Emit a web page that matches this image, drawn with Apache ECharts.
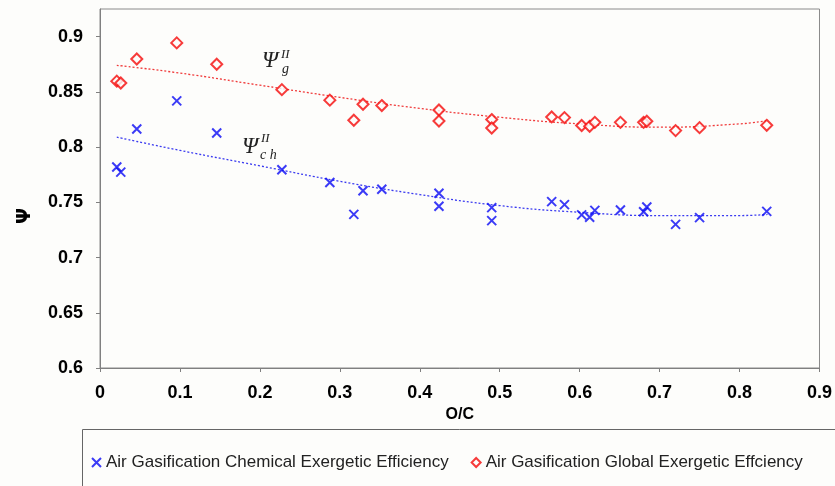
<!DOCTYPE html>
<html>
<head>
<meta charset="utf-8">
<script src="https://cdn.jsdelivr.net/npm/echarts@6/dist/echarts.min.js"></script>
<style>
  html, body { margin: 0; padding: 0; background: #fdfdfb; }
  #chart { width: 835px; height: 486px; }
</style>
</head>
<body>
<div id="chart"></div>
<script>
// O/C ratio of each run (shared by both series)
const ocRatio = [0.021, 0.026, 0.046, 0.096, 0.146, 0.2275, 0.2875, 0.3175, 0.329, 0.3525,
  0.424, 0.424, 0.49, 0.49, 0.565, 0.581, 0.6025, 0.6125, 0.619, 0.651, 0.68, 0.684, 0.72, 0.75, 0.834]

const chemicalEff = [0.7819, 0.7773, 0.8164, 0.8418, 0.8127, 0.7794, 0.7679, 0.7391, 0.7604, 0.7618,
  0.7582, 0.7464, 0.7452, 0.7334, 0.7506, 0.7479, 0.7386, 0.7364, 0.7427, 0.7431, 0.7415, 0.7458, 0.730, 0.7361, 0.7418]

const globalEff = [0.8597, 0.858, 0.8797, 0.8943, 0.875, 0.852, 0.8425, 0.8243, 0.8388, 0.8376,
  0.8336, 0.8236, 0.8249, 0.8173, 0.8273, 0.8267, 0.8195, 0.8188, 0.8224, 0.8224, 0.8224, 0.8234, 0.8149, 0.8176, 0.8197]

// trend lines
const trendX = [0.021, 0.1, 0.2, 0.3, 0.4, 0.5, 0.6, 0.7, 0.8, 0.835]
const chemicalTrend = [0.809, 0.797, 0.783, 0.769, 0.757, 0.747, 0.741, 0.738, 0.738, 0.739]
const globalTrend = [0.874, 0.867, 0.856, 0.845, 0.835, 0.827, 0.821, 0.818, 0.821, 0.824]

const seriesNames = ['Air Gasification Chemical Exergetic Efficiency', 'Air Gasification Global Exergetic Effciency']

const pairs = (xs, ys) => xs.map((x, i) => [x, ys[i]])

const chart = echarts.init(document.getElementById('chart'))

const crossPath = 'path://M0,0L10,10M10,0L0,10'
const labelFont = { fontFamily: 'Liberation Sans', fontWeight: 'bold', fontSize: 18, color: '#000' }
const mathFont = (size) => 'italic ' + size + 'px "Liberation Serif"'

const option = {
  backgroundColor: '#fdfdfb',
  animation: false,
  grid: {
    left: 100,
    right: 15,
    top: 9,
    bottom: 118,
    show: true,
    borderColor: '#8a8a8a',
    borderWidth: 1,
  },
  xAxis: {
    type: 'value',
    min: 0,
    max: 0.9,
    interval: 0.1,
    name: 'O/C',
    nameLocation: 'middle',
    nameGap: 33,
    nameTextStyle: { fontFamily: 'Liberation Sans', fontWeight: 'bold', fontSize: 16, color: '#000' },
    axisLine: { lineStyle: { color: '#808080' } },
    axisTick: { length: 4, lineStyle: { color: '#808080' } },
    axisLabel: { ...labelFont, margin: 16 },
    splitLine: { show: false },
  },
  yAxis: {
    type: 'value',
    min: 0.6,
    max: 0.925,
    interval: 0.05,
    axisLine: { show: true, lineStyle: { color: '#808080' } },
    axisTick: { show: true, length: 4, lineStyle: { color: '#808080' } },
    axisLabel: { ...labelFont, margin: 17, showMaxLabel: false },
    splitLine: { show: false },
  },
  legend: {
    data: seriesNames,
    left: 86,
    top: 449,
    itemGap: 22,
    itemWidth: 9,
    itemHeight: 9,
    textStyle: { fontFamily: 'Liberation Sans', fontSize: 17, color: '#222' },
  },
  graphic: [
    {
      type: 'rect',
      left: 80,
      top: 427,
      shape: { width: 800, height: 80 },
      style: { fill: 'none', stroke: '#666', lineWidth: 1 },
      silent: true,
    },
    {
      type: 'text',
      x: 25,
      y: 216,
      rotation: Math.PI / 2,
      style: { text: 'Ψ', font: 'bold 19px "DejaVu Sans"', fill: '#000', align: 'center', verticalAlign: 'middle' },
    },
    { type: 'text', left: 262, top: 49, style: { text: 'Ψ', font: mathFont(23), fill: '#222' } },
    { type: 'text', left: 281, top: 48, style: { text: 'II', font: mathFont(13), fill: '#222' } },
    { type: 'text', left: 282, top: 62, style: { text: 'g', font: mathFont(14), fill: '#222' } },
    { type: 'text', left: 242, top: 135, style: { text: 'Ψ', font: mathFont(23), fill: '#222' } },
    { type: 'text', left: 261, top: 132, style: { text: 'II', font: mathFont(13), fill: '#222' } },
    { type: 'text', left: 260, top: 148, style: { text: 'c h', font: mathFont(14), fill: '#222' } },
  ],
  series: [
    {
      name: seriesNames[0],
      type: 'scatter',
      data: pairs(ocRatio, chemicalEff),
      symbol: crossPath,
      symbolSize: 9,
      itemStyle: { color: 'transparent', borderColor: '#0a0af5', borderWidth: 2 },
      z: 3,
    },
    {
      name: seriesNames[1],
      type: 'scatter',
      data: pairs(ocRatio, globalEff),
      symbol: 'diamond',
      symbolSize: 11,
      itemStyle: { color: '#fdfdfb', borderColor: '#f50a0a', borderWidth: 2 },
      z: 3,
    },
    {
      name: 'chemical trend',
      type: 'line',
      data: pairs(trendX, chemicalTrend),
      smooth: true,
      showSymbol: false,
      lineStyle: { color: '#3a3af0', width: 1.3, type: [2, 2] },
      z: 2,
    },
    {
      name: 'global trend',
      type: 'line',
      data: pairs(trendX, globalTrend),
      smooth: true,
      showSymbol: false,
      lineStyle: { color: '#f03a3a', width: 1.3, type: [2, 2] },
      z: 2,
    },
  ],
}

chart.setOption(option)
</script>
</body>
</html>
